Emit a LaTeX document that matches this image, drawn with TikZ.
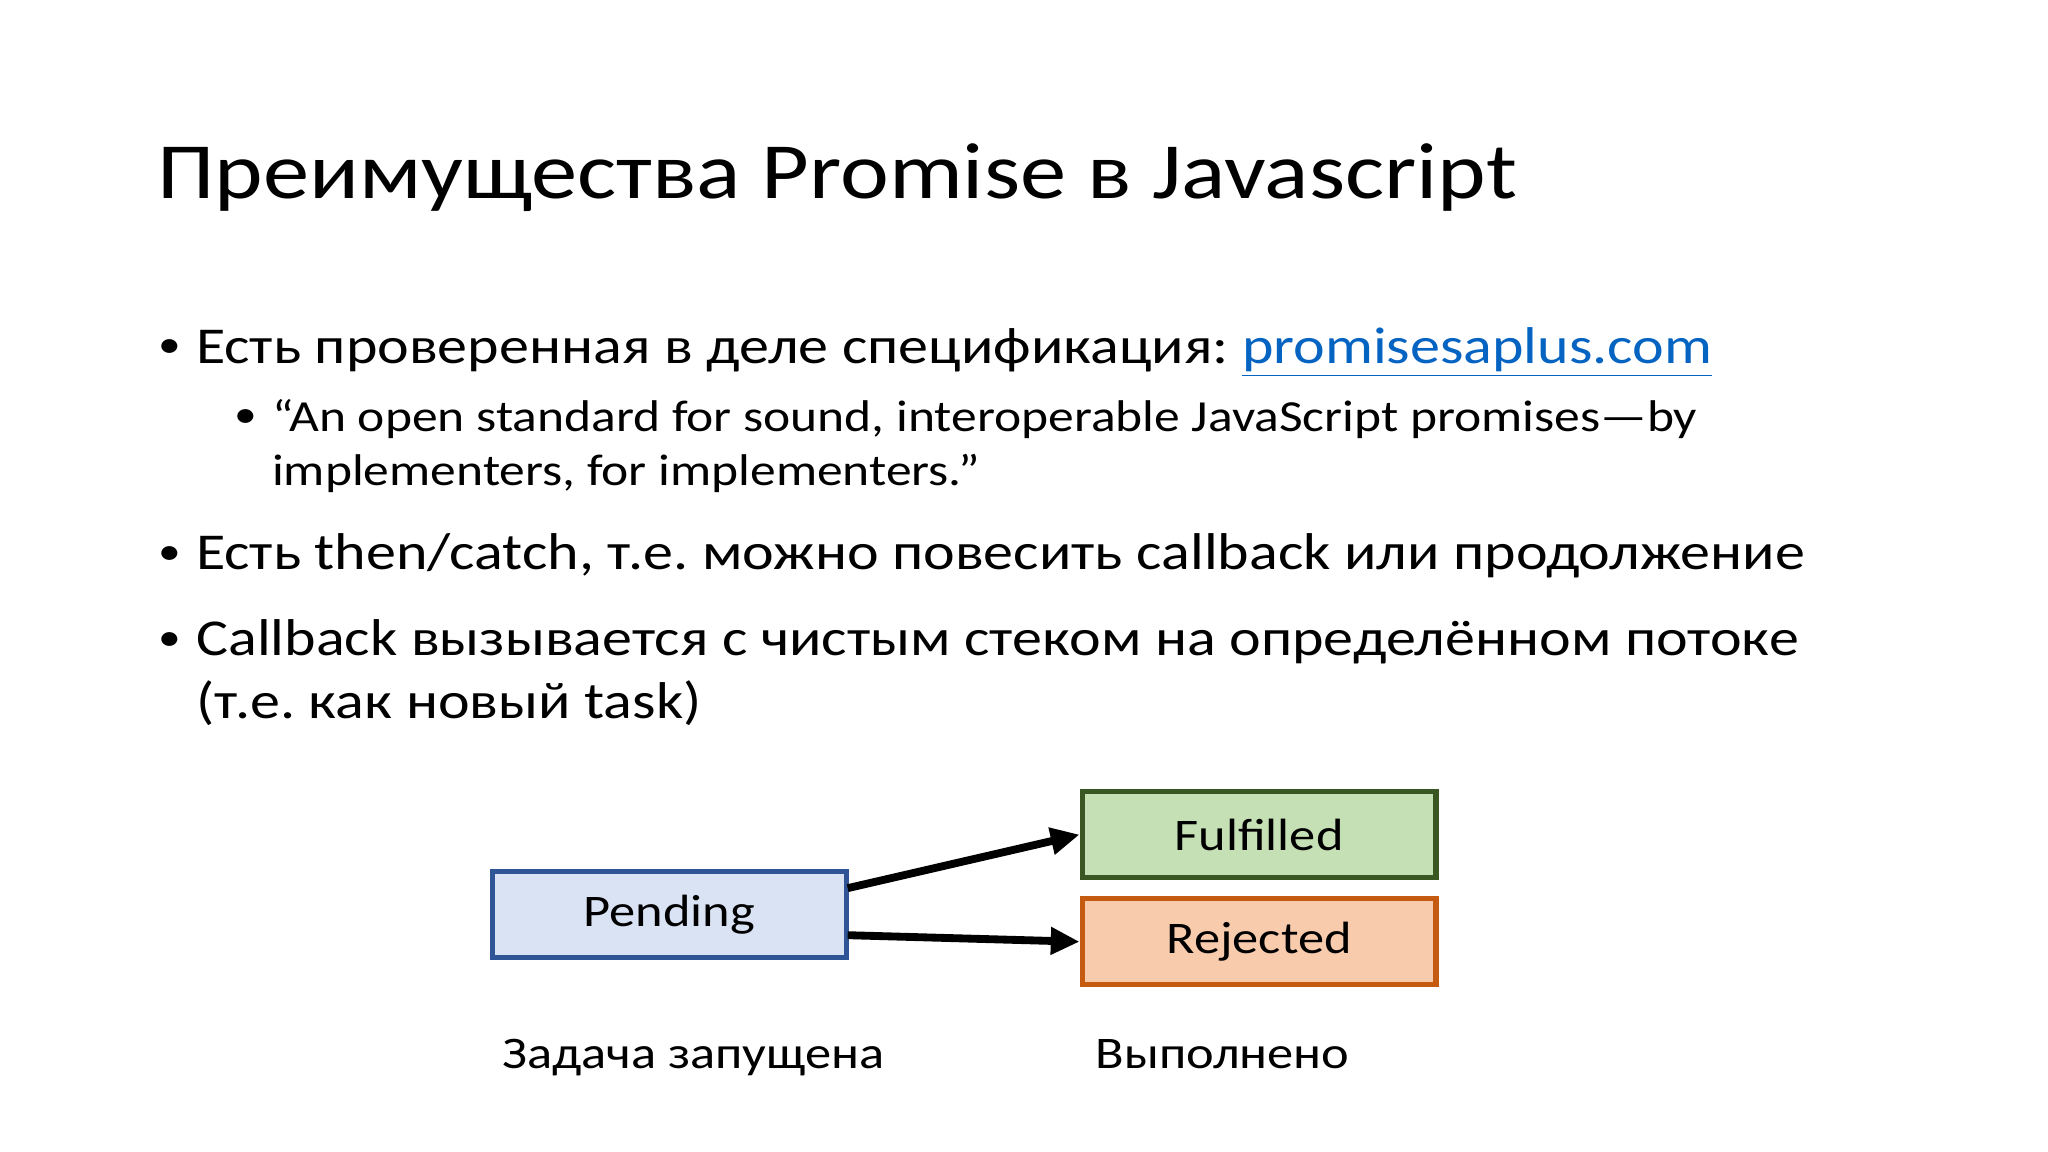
\documentclass[tikz,border=0pt]{standalone}
\usepackage{fontspec}
\setmainfont{Carlito}[FakeStretch=1.16]
\frenchspacing
\usetikzlibrary{arrows.meta}
\definecolor{linkblue}{HTML}{0563C1}
\definecolor{pfill}{HTML}{DAE3F3}\definecolor{pdraw}{HTML}{2F5597}
\definecolor{ffill}{HTML}{C5E0B4}\definecolor{fdraw}{HTML}{385723}
\definecolor{rfill}{HTML}{F8CBAD}\definecolor{rdraw}{HTML}{C55A11}
\begin{document}
\begin{tikzpicture}[x=0.5pt,y=-0.5pt,
  txt/.style={anchor=base west,inner sep=0pt,font=\fontsize{19.8}{24}\selectfont},
  dot/.style={anchor=base west,inner sep=0pt,font=\fontsize{15}{18}\selectfont},
  sub/.style={anchor=base west,inner sep=0pt,font=\fontsize{17}{21}\selectfont},
  state/.style={draw,line width=2pt,minimum width=135.5pt,minimum height=33pt,inner sep=0pt,font=\fontsize{17.3}{20}\selectfont},
  arr/.style={line width=3pt,-{Triangle[length=11pt,width=10pt]}}]
\useasboundingbox (0,0) rectangle (1568,882);
\node[anchor=base west,inner sep=0pt,font=\fontsize{30.5}{36}\selectfont] (title) at (120,152) {Преимущества Promise в Javascript};
\node[dot] (b1d) at (121,274) {•};
\node[txt] (b1) at (150,278) {Есть проверенная в деле спецификация: \textcolor{linkblue}{\underline{promisesaplus.com}}};
\node[dot] (s1d) at (179,327) {•};
\node[sub] (s1) at (208,330) {“An open standard for sound, interoperable JavaScript promises—by};
\node[sub] (s1b) at (208,372) {implementers, for implementers.”};
\node[dot] (b2d) at (121,432) {•};
\node[txt] (b2) at (150,436) {Есть then/catch, т.е. можно повесить callback или продолжение};
\node[dot] (b3d) at (121,498) {•};
\node[txt] (b3) at (150,502) {Callback вызывается с чистым стеком на определённом потоке};
\node[txt] (b3b) at (150,550) {(т.е. как новый task)};
\node[state,draw=pdraw,fill=pfill] (pend) at (512.5,700) {Pending};
\node[state,draw=fdraw,fill=ffill] (ful) at (964,639) {Fulfilled};
\node[state,draw=rdraw,fill=rfill] (rej) at (964,721) {Rejected};
\coordinate (p1) at (649,680);
\coordinate (p2) at (649,716);
\draw[arr] (p1) -- (ful.west);
\draw[arr] (p2) -- (rej.west);
\node[anchor=base,inner sep=0pt,font=\fontsize{17.3}{20}\selectfont] (l1) at (531,818) {Задача запущена};
\node[anchor=base,inner sep=0pt,font=\fontsize{17.3}{20}\selectfont] (l2) at (936,818) {Выполнено};
\end{tikzpicture}
\end{document}
